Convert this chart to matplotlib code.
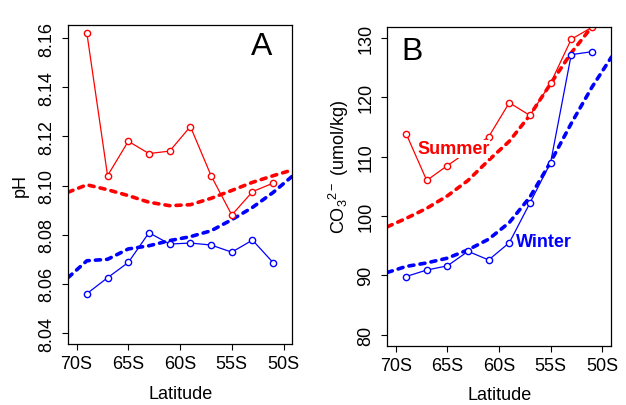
import numpy as np
import matplotlib
matplotlib.use("Agg")
import matplotlib.pyplot as plt

plt.rcParams['font.family'] = ['Liberation Sans', 'DejaVu Sans']
plt.rcParams['mathtext.fontset'] = 'custom'
plt.rcParams['mathtext.rm'] = 'Liberation Sans'
plt.rcParams['mathtext.it'] = 'Liberation Sans'

# station latitudes (observations every 2 degrees)
lat = [-69, -67, -65, -63, -61, -59, -57, -55, -53, -51]
ph_summer = [8.162, 8.104, 8.118, 8.113, 8.114, 8.124, 8.104, 8.088, 8.0975, 8.101]
ph_winter = [8.056, 8.0625, 8.0687, 8.0808, 8.0762, 8.0766, 8.0758, 8.0729, 8.0778, 8.0686]
co3_summer = [113.9, 106.0, 108.5, 110.9, 113.35, 119.1, 116.95, 122.4, 129.8, 131.8]
co3_winter = [89.8, 90.9, 91.6, 94.05, 92.6, 95.5, 102.2, 109.0, 127.2, 127.7]

# model curves (dashed)
model_lat = [-70.8, -69, -67, -65, -63, -61, -59, -57, -55, -53, -51, -49.1]
ph_model_summer = [8.0973, 8.1003, 8.0983, 8.0959, 8.0932, 8.0918, 8.0922, 8.0948, 8.098, 8.1013, 8.104, 8.1064]
ph_model_winter = [8.0626, 8.0694, 8.070, 8.0742, 8.0755, 8.0776, 8.0792, 8.0816, 8.0861, 8.0911, 8.0972, 8.104]
co3_model_summer = [98.2, 99.6, 101.3, 103.4, 106.0, 109.4, 112.6, 117.0, 122.3, 127.5, 131.9, 136.0]
co3_model_winter = [90.5, 91.5, 92.1, 92.9, 94.3, 96.1, 98.9, 103.2, 109.1, 115.6, 121.7, 126.8]

xticks = [-70, -65, -60, -55, -50]
xticklabels = ['70S', '65S', '60S', '55S', '50S']
ph_ticks = [8.04, 8.06, 8.08, 8.10, 8.12, 8.14, 8.16]
co3_ticks = [80, 90, 100, 110, 120, 130]

RED = '#ff0000'
BLUE = '#0000ff'

fig = plt.figure(figsize=(6.26, 4.06), dpi=100)
axA = fig.add_axes([0.109, 0.150, 0.358, 0.786])
axB = fig.add_axes([0.619, 0.146, 0.357, 0.785])

dash_kw = dict(lw=2.6, linestyle=(0, (1.4, 1.7)), dash_capstyle='round')
obs_kw = dict(lw=0.9, marker='o', markersize=4.5, markerfacecolor='white',
              markeredgewidth=1.0)


def style(ax):
    ax.set_xlim(-70.8, -49.15)
    ax.set_xticks(xticks)
    ax.set_xticklabels(xticklabels)
    ax.tick_params(axis='both', labelsize=13, length=4.5, width=0.8)
    ax.tick_params(axis='x', pad=3.5)
    ax.tick_params(axis='y', pad=5)
    for lab in ax.get_yticklabels():
        lab.set_rotation(90)
        lab.set_va('center')
    for sp in ax.spines.values():
        sp.set_linewidth(0.9)
    ax.set_xlabel('Latitude', fontsize=13, labelpad=9)


# --- Panel A: pH ---
axA.plot(model_lat, ph_model_summer, color=RED, **dash_kw)
axA.plot(model_lat, ph_model_winter, color=BLUE, **dash_kw)
axA.plot(lat, ph_summer, color=RED, markeredgecolor=RED, **obs_kw)
axA.plot(lat, ph_winter, color=BLUE, markeredgecolor=BLUE, **obs_kw)
axA.set_ylim(8.0355, 8.1653)
axA.set_yticks(ph_ticks)
axA.set_yticklabels(['%.2f' % t for t in ph_ticks])
style(axA)
axA.set_ylabel('pH', fontsize=13)
axA.yaxis.set_label_coords(-0.175, 0.5)
axA.text(-52.15, 8.1569, 'A', fontsize=23, ha='center', va='center')

# --- Panel B: carbonate ion ---
axB.plot(model_lat, co3_model_summer, color=RED, **dash_kw)
axB.plot(model_lat, co3_model_winter, color=BLUE, **dash_kw)
axB.plot(lat, co3_summer, color=RED, markeredgecolor=RED, **obs_kw)
axB.plot(lat, co3_winter, color=BLUE, markeredgecolor=BLUE, **obs_kw)
axB.set_ylim(78.14, 131.86)
axB.set_yticks(co3_ticks)
axB.set_yticklabels([str(t) for t in co3_ticks])
style(axB)
axB.set_ylabel(r'CO$_3$$^{2-}$ (umol/kg)', fontsize=13)
axB.yaxis.set_label_coords(-0.162, 0.565)
axB.text(-68.4, 127.9, 'B', fontsize=23, ha='center', va='center')

# series labels sit on top of the lines (white backing hides what is under them)
axB.text(-64.4, 111.3, 'Summer', color=RED, fontsize=13, fontweight='bold',
         ha='center', va='center', zorder=5,
         bbox=dict(facecolor='white', edgecolor='none', pad=0.5))
axB.text(-55.6, 95.7, 'Winter', color=BLUE, fontsize=13, fontweight='bold',
         ha='center', va='center', zorder=5)

fig.savefig('out.png', dpi=100)
